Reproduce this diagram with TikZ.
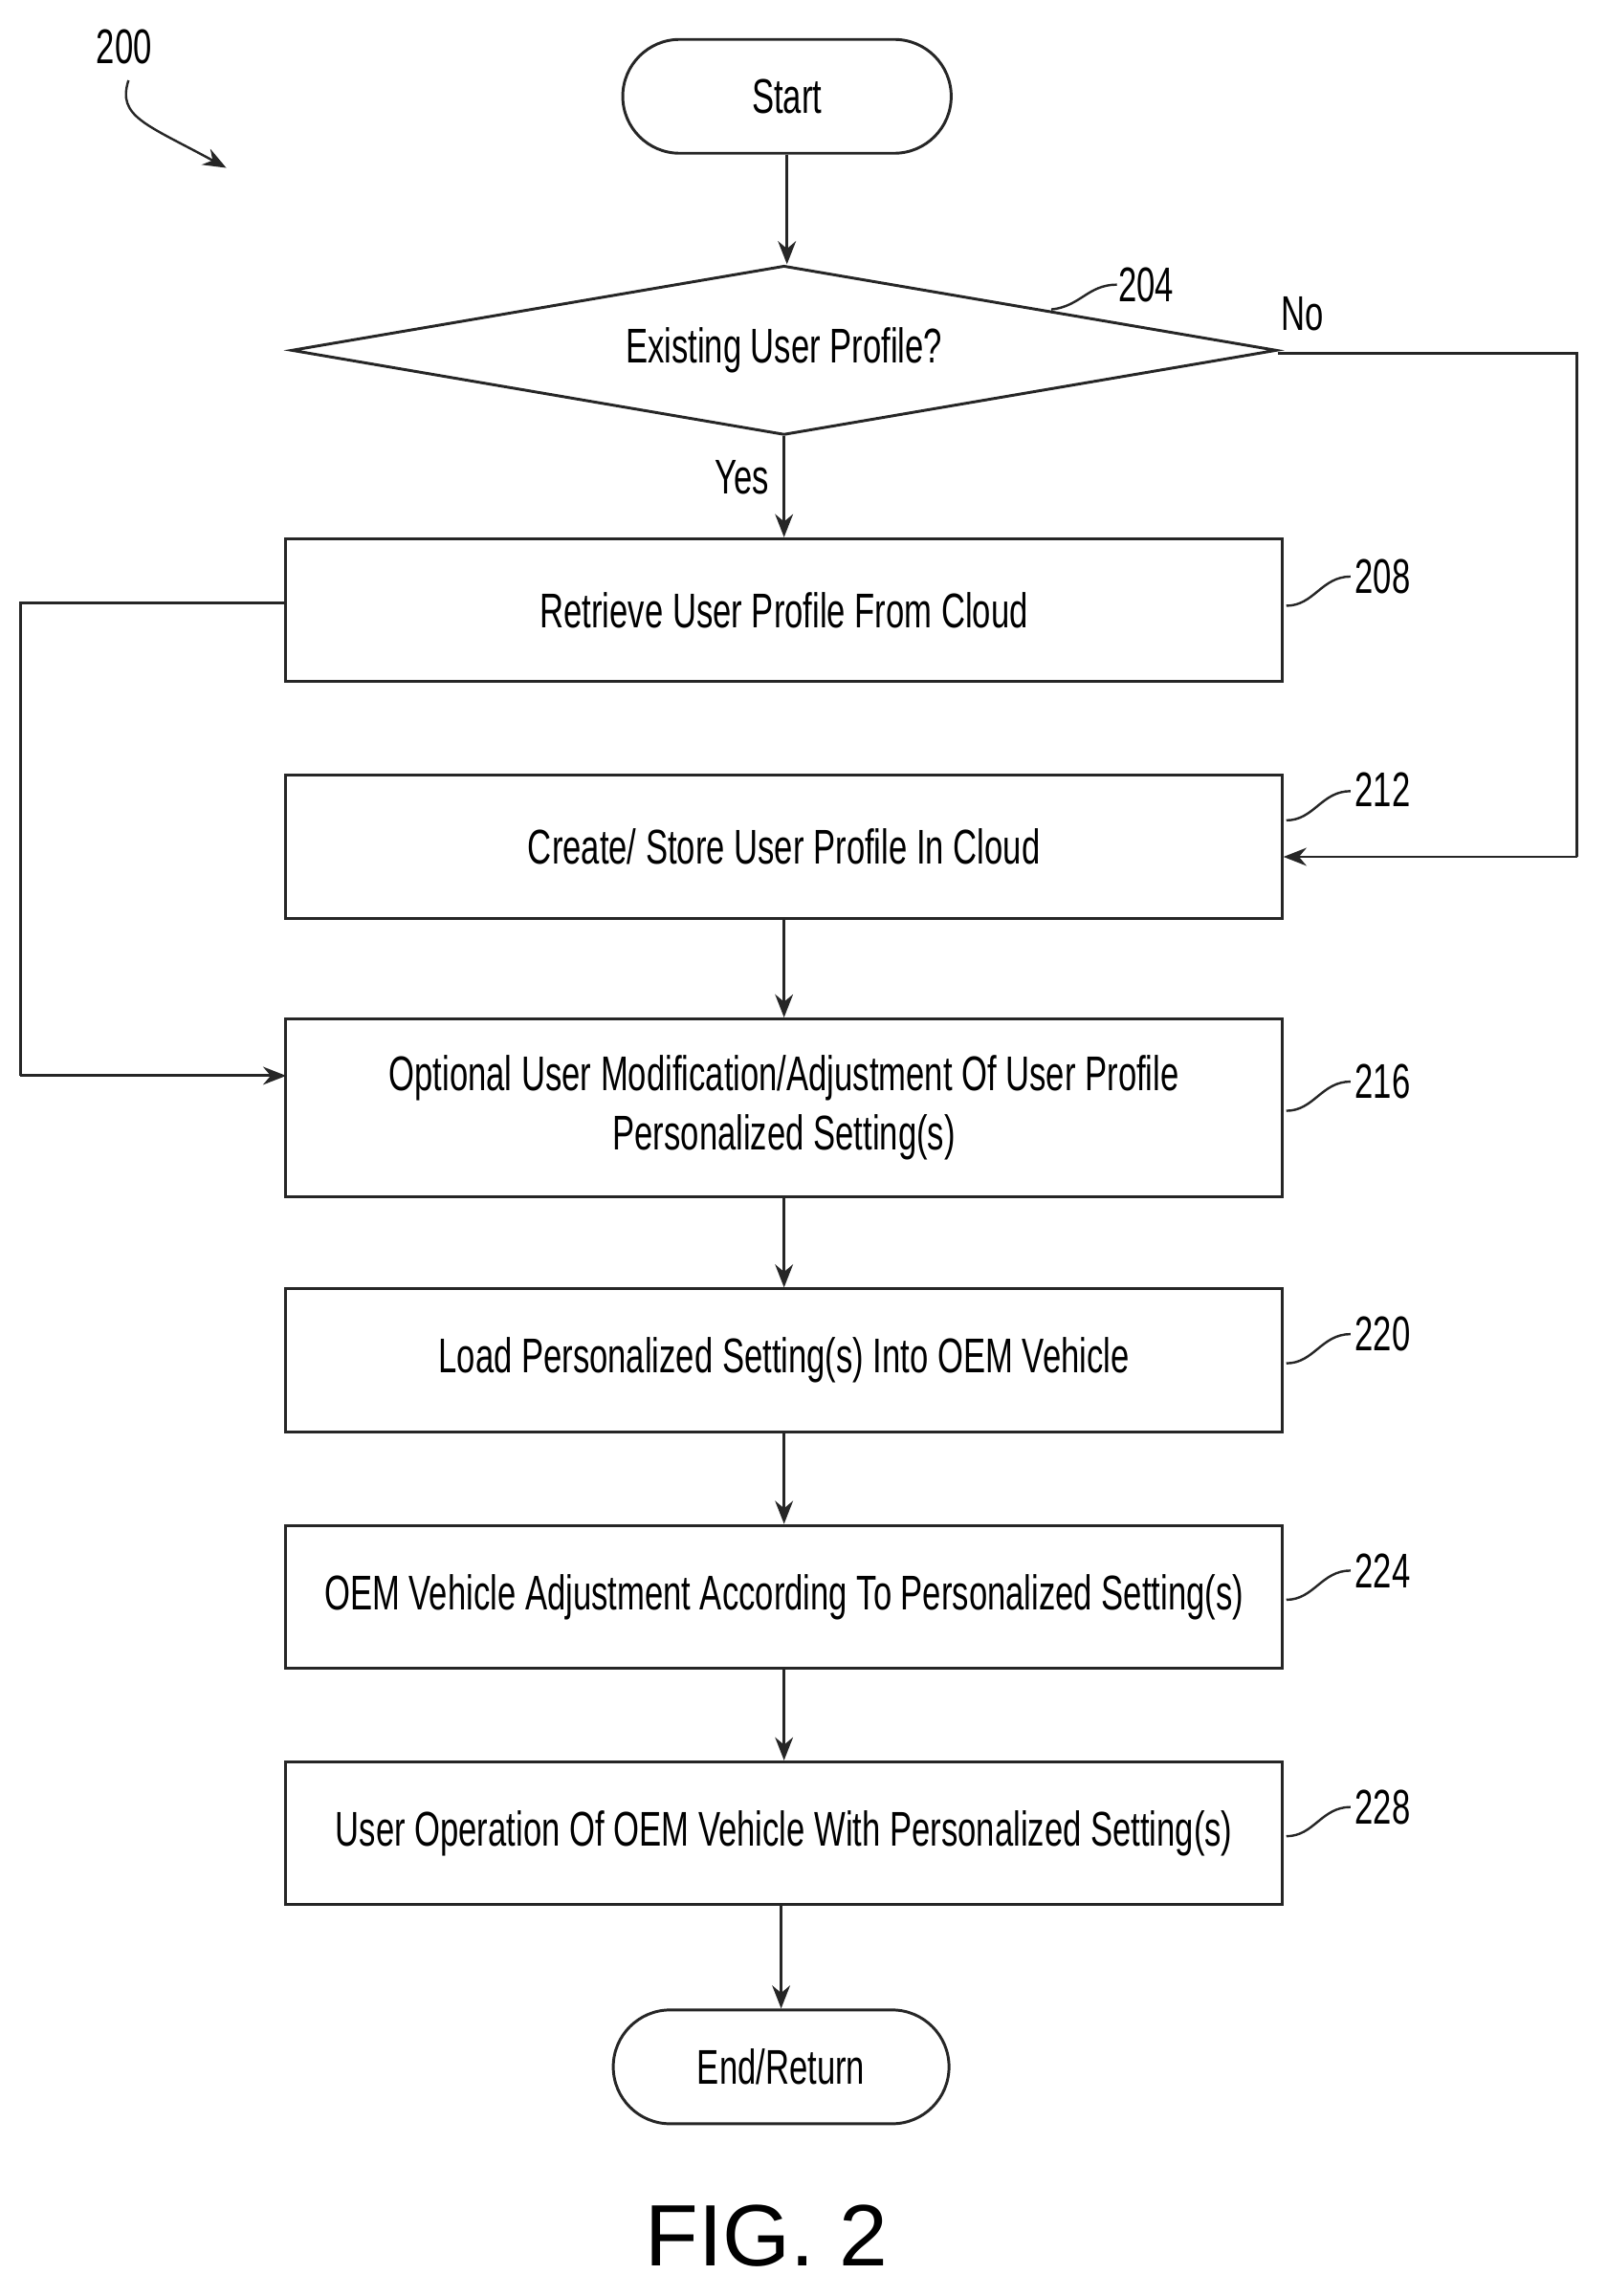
\documentclass[tikz,border=0pt]{standalone}
\usepackage{fontspec}
\setmainfont[FakeStretch=0.68]{Liberation Sans}
\newfontfamily\figfont{Liberation Sans}
\usetikzlibrary{arrows.meta,shapes.geometric}
\begin{document}
\begin{tikzpicture}[x=0.02cm,y=-0.02cm,
  ln/.style={line width=1.1pt,draw=black!85},
  arr/.style={ln,-{Stealth[length=9pt,width=7pt]}},
  box/.style={ln,rectangle,minimum width=13.66cm,minimum height=1.96cm,font=\fontsize{19}{23}\selectfont,align=center,inner sep=0pt},
  term/.style={ln,rounded corners=0.78cm,minimum width=4.5cm,minimum height=1.56cm,font=\fontsize{19}{23}\selectfont,inner sep=0pt},
  lbl/.style={font=\fontsize{19}{23}\selectfont,inner sep=1pt},
  sq/.style={ln,line width=0.9pt}]
\useasboundingbox (0,0) rectangle (1100,1573);
\node[term] (start) at (539,66) {Start};
\node[ln,diamond,minimum width=13.5cm,minimum height=2.32cm,aspect=5.8,inner sep=0pt,font=\fontsize{19}{23}\selectfont] (d) at (537,240) {Existing User Profile?};
\node[box] (b208) at (537,418) {Retrieve User Profile From Cloud};
\node[box] (b212) at (537,580) {Create/ Store User Profile In Cloud};
\node[box,minimum height=2.44cm] (b216) at (537,759) {Optional User Modification/Adjustment Of User Profile\\Personalized Setting(s)};
\node[box] (b220) at (537,932) {Load Personalized Setting(s) Into OEM Vehicle};
\node[box] (b224) at (537,1094) {OEM Vehicle Adjustment According To Personalized Setting(s)};
\node[box] (b228) at (537,1256) {User Operation Of OEM Vehicle With Personalized Setting(s)};
\node[term,minimum width=4.6cm] (end) at (535,1416) {End/Return};
\coordinate (dr) at (875,242);
\coordinate (n1) at (1080,242);
\coordinate (n2) at (1080,587);
\coordinate (n3) at (879,587);
\coordinate (l1) at (14,413);
\coordinate (l2) at (14,737);
\coordinate (l3) at (196,737);
\coordinate (l0) at (196,413);
\draw[arr] (start.south) -- (start.south |- d.north);
\draw[arr] (d.south) -- (b208.north);
\draw[ln] (dr) -- (n1) -- (n2);
\draw[arr] (n2) -- (n3);
\draw[ln] (l0) -- (l1) -- (l2);
\draw[arr] (l2) -- (l3);
\draw[arr] (b212) -- (b216);
\draw[arr] (b216) -- (b220);
\draw[arr] (b220) -- (b224);
\draw[arr] (b224) -- (b228);
\draw[arr] (end.north |- b228.south) -- (end.north);
\node[lbl] (yes) at (508,327) {Yes};
\node[lbl] (no) at (892,215) {No};
\node[lbl] (t200) at (85,32) {200};
\node[lbl] (t204) at (785,195) {204};
\node[lbl] (t208) at (947,395) {208};
\node[lbl] (t212) at (947,541) {212};
\node[lbl] (t216) at (947,741) {216};
\node[lbl] (t220) at (947,914) {220};
\node[lbl] (t224) at (947,1076) {224};
\node[lbl] (t228) at (947,1238) {228};
\draw[sq,-{Stealth[length=9pt,width=7pt]}] (88,55) .. controls (80,80) and (100,85) .. (155,115);
\draw[sq] (720,212) .. controls (740,210) and (745,195) .. (765,195);
\foreach \y/\n in {415/t208,562/t212,761/t216,934/t220,1096/t224,1258/t228}
  \draw[sq] (881,\y) .. controls (900,\y) and (905,\y-20) .. (925,\y-20);
\node[font=\figfont\fontsize{34}{40}\selectfont] (fig) at (525,1532) {FIG. 2};
\end{tikzpicture}
\end{document}
